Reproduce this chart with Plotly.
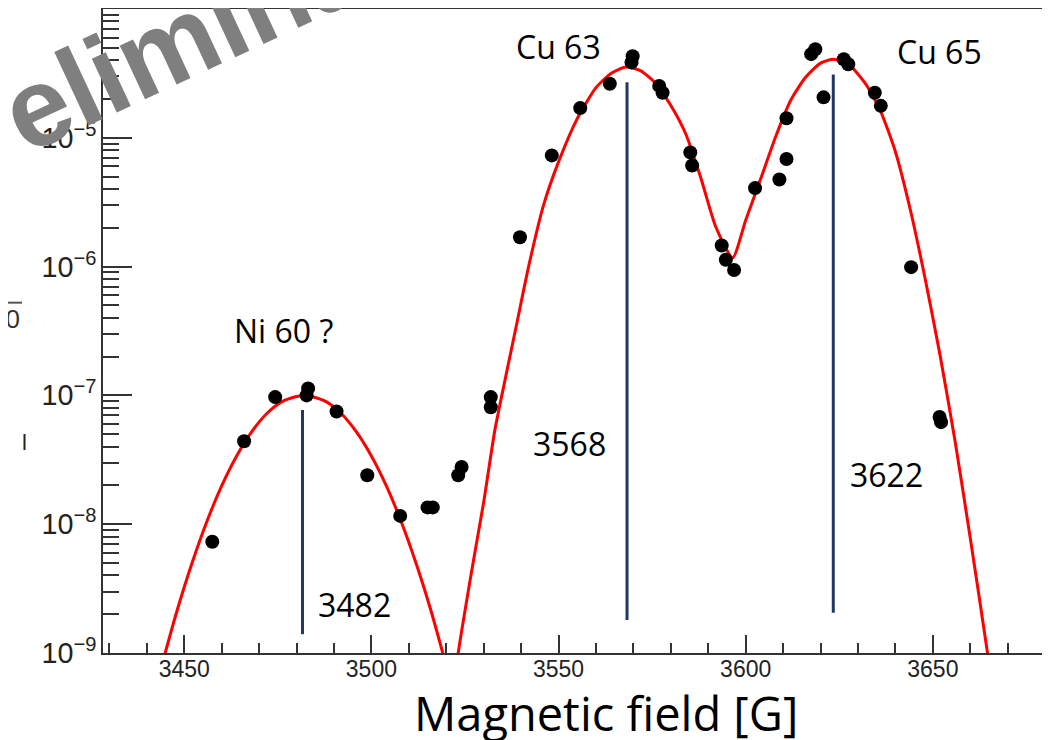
import math
import plotly.graph_objects as go

# ---------------- data ----------------
# measured points (Magnetic field [G], signal)
pts_x = [3457.5, 3466.0, 3474.3, 3483.1, 3482.7, 3490.7, 3498.9, 3507.7, 3515.0, 3516.4,
         3524.1, 3523.2, 3531.9, 3531.9,
         3539.7, 3548.2, 3555.8, 3563.7, 3569.8, 3569.5, 3576.9, 3577.8, 3585.2, 3585.7,
         3593.6, 3594.7, 3596.9, 3602.5, 3609.0, 3610.9, 3610.9, 3618.6, 3617.5, 3620.8,
         3626.2, 3627.4, 3634.5, 3636.1, 3644.2, 3651.8, 3652.2]
pts_y = [7.3e-9, 4.4e-8, 9.7e-8, 1.13e-7, 1.0e-7, 7.5e-8, 2.4e-8, 1.16e-8, 1.35e-8, 1.35e-8,
         2.78e-8, 2.4e-8, 9.7e-8, 8.1e-8,
         1.69e-6, 7.3e-6, 1.70e-5, 2.63e-5, 4.3e-5, 3.85e-5, 2.53e-5, 2.24e-5, 7.7e-6, 6.1e-6,
         1.46e-6, 1.13e-6, 9.4e-7, 4.07e-6, 4.75e-6, 6.84e-6, 1.42e-5, 4.87e-5, 4.46e-5, 2.06e-5,
         4.07e-5, 3.72e-5, 2.24e-5, 1.77e-5, 9.9e-7, 6.8e-8, 6.2e-8]

# fitted curve, Ni 60 peak
ni_fit_x = [3444, 3448, 3452, 3456, 3460, 3464, 3468, 3472, 3476, 3480, 3482,
            3484, 3488, 3492, 3496, 3500, 3504, 3508, 3512, 3516, 3520, 3522]
ni_fit_y = [8.0e-10, 2.09e-9, 4.9e-9, 1.04e-8, 1.98e-8, 3.38e-8, 5.2e-8, 7.2e-8, 8.9e-8, 9.8e-8, 1.0e-7,
            9.8e-8, 8.9e-8, 7.2e-8, 5.2e-8, 3.38e-8, 1.98e-8, 1.04e-8, 4.9e-9, 2.09e-9, 8.0e-10, 5.0e-10]

# fitted curve, Cu 63 + Cu 65 peaks
cu_fit_x = [3521.5, 3523.2, 3527, 3530, 3533, 3536, 3539, 3542, 3546, 3550, 3555, 3560, 3564, 3568,
            3572, 3576, 3580, 3584, 3588, 3592, 3596.5, 3600, 3604, 3608, 3612, 3616, 3620,
            3623.5, 3627.5, 3632, 3636, 3640, 3644, 3648, 3652, 3656, 3660, 3664.5, 3666.5]
cu_fit_y = [4.0e-10, 1.0e-9, 4.7e-9, 1.48e-8, 5.4e-8, 1.45e-7, 3.8e-7, 1.0e-6, 3.0e-6, 6.5e-6, 1.41e-5,
            2.45e-5, 3.16e-5, 3.55e-5, 3.31e-5, 2.63e-5, 1.78e-5, 1.07e-5, 4.9e-6, 2.04e-6, 1.17e-6,
            2.29e-6, 4.8e-6, 1.02e-5, 1.95e-5, 2.95e-5, 3.8e-5, 4.07e-5, 3.72e-5, 2.63e-5, 1.62e-5,
            7.8e-6, 2.75e-6, 7.9e-7, 2.0e-7, 4.3e-8, 7.8e-9, 1.05e-9, 4.0e-10]

# marker lines for the peak positions
peak_x = [3481.6, 3568.3, 3623.4]
peak_top = [7.7e-8, 2.7e-5, 3.1e-5]
peak_bottom = [1.4e-9, 1.8e-9, 2.05e-9]
peak_labels = ["3482", "3568", "3622"]
peak_label_x = [3495.5, 3552.9, 3637.5]
peak_label_y = [2.4e-9, 4.2e-8, 2.42e-8]

iso_labels = ["Ni 60 ?", "Cu 63", "Cu 65"]
iso_label_x = [3476.4, 3550.1, 3651.7]
iso_label_y = [3.19e-7, 5.16e-5, 4.64e-5]

x_ticks = [3450, 3500, 3550, 3600, 3650]

fig = go.Figure()

for xv, yt, yb in zip(peak_x, peak_top, peak_bottom):
    fig.add_trace(go.Scatter(x=[xv, xv], y=[yb, yt], mode="lines",
                             line=dict(color="#1f3864", width=3), showlegend=False,
                             hoverinfo="skip"))

fig.add_trace(go.Scatter(x=ni_fit_x, y=ni_fit_y, mode="lines",
                         line=dict(color="#ff0000", width=3, shape="spline", smoothing=0.8),
                         showlegend=False))
fig.add_trace(go.Scatter(x=cu_fit_x, y=cu_fit_y, mode="lines",
                         line=dict(color="#ff0000", width=3, shape="spline", smoothing=0.6),
                         showlegend=False))
fig.add_trace(go.Scatter(x=pts_x, y=pts_y, mode="markers",
                         marker=dict(color="black", size=14), showlegend=False))

label_font = dict(family="Open Sans", size=32, color="black")
for t, xv, yv in zip(peak_labels + iso_labels, peak_label_x + iso_label_x,
                     peak_label_y + iso_label_y):
    fig.add_annotation(x=xv, y=math.log10(yv), xref="x", yref="y", text=t,
                       showarrow=False, font=label_font,
                       xanchor="center", yanchor="middle")

# x-axis title
fig.add_annotation(x=0.531, y=-0.093, xref="paper", yref="paper", text="Magnetic field [G]",
                   showarrow=False, font=dict(family="Open Sans", size=47, color="black"),
                   xanchor="center", yanchor="middle")

# watermark fragment
fig.add_annotation(x=0.079, y=0.950, xref="paper", yref="paper", text="<b>Preliminary</b>",
                   showarrow=False, textangle=-25, xanchor="center", yanchor="middle",
                   font=dict(family="Liberation Sans", size=112, color="#7f7f7f"))

# cut-off y title fragments
fig.add_annotation(x=-0.0855, y=0.519, xref="paper", yref="paper", text="00",
                   showarrow=False, xanchor="right", yanchor="middle",
                   font=dict(family="Liberation Sans", size=26, color="#333"))
fig.add_shape(type="line", xref="paper", yref="paper", x0=-0.11, x1=-0.0855,
              y0=0.544, y1=0.544, line=dict(color="#555", width=2))
fig.add_annotation(x=-0.0834, y=0.327, xref="paper", yref="paper", text="l",
                   showarrow=False, xanchor="center", yanchor="middle",
                   font=dict(family="Liberation Sans", size=22, color="#222"))

fig.update_layout(
    template="none",
    width=1042, height=732,
    margin=dict(l=95, r=0, t=1, b=87, autoexpand=False),
    paper_bgcolor="white", plot_bgcolor="white",
    showlegend=False,
    xaxis=dict(range=[3428.3, 3681.3], tickvals=x_ticks, ticks="inside", ticklen=18,
               tickwidth=1.5, tickcolor="#333", showgrid=False, zeroline=False,
               automargin=False, ticklabelstandoff=-6,
               showline=True, linecolor="#333", linewidth=2, mirror=True,
               tickfont=dict(family="Liberation Sans", size=23, color="#222"),
               minor=dict(dtick=10, tick0=3430, ticks="inside", ticklen=10, tickwidth=1.5,
                          tickcolor="#333", showgrid=False)),
    yaxis=dict(type="log", range=[-9, -4], dtick=1, exponentformat="power",
               ticks="inside", ticklen=29, tickwidth=1.5, tickcolor="#333",
               automargin=False,
               showgrid=False, zeroline=False, showline=True, linecolor="#333", linewidth=2,
               tickfont=dict(family="Liberation Sans", size=23, color="#222"),
               minor=dict(dtick="D1", ticks="inside", ticklen=16, tickwidth=1.5,
                          tickcolor="#333", showgrid=False)),
)

fig.write_html("out.html")
